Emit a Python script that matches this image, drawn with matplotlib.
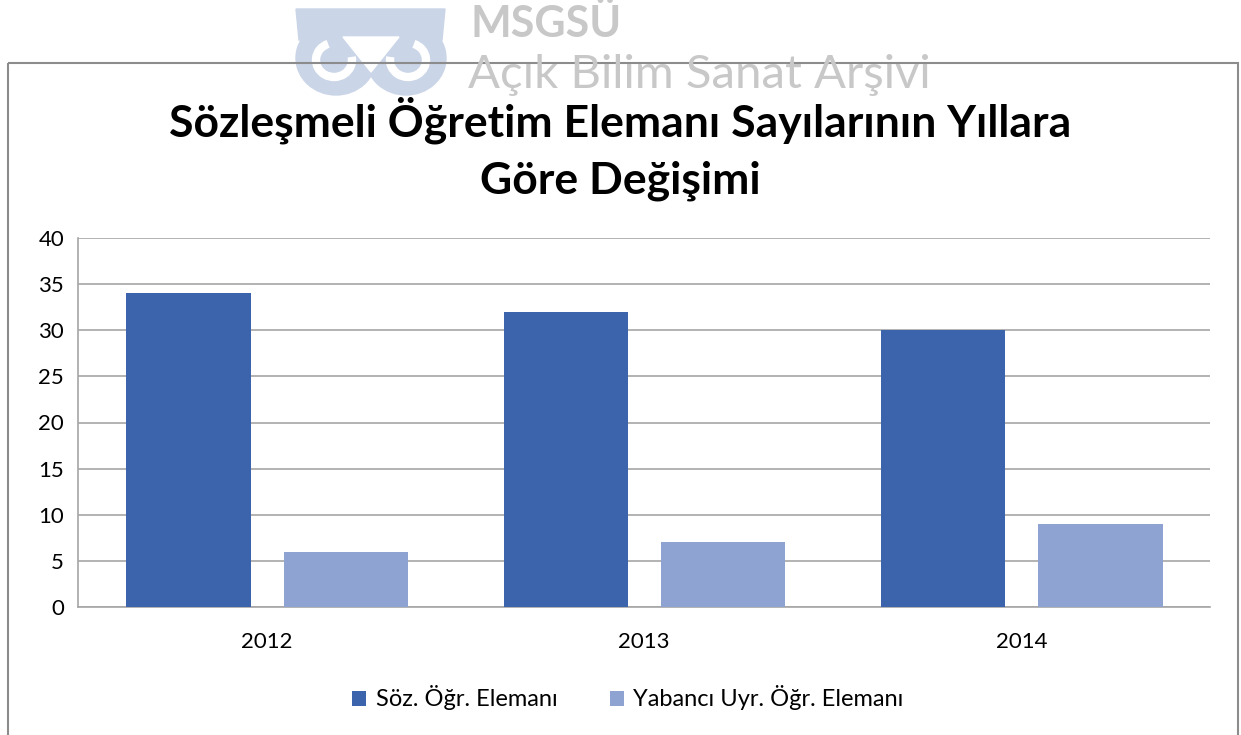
import matplotlib.pyplot as plt
import matplotlib.patches as mpatches
import numpy as np

plt.rcParams['font.family'] = ['Lato', 'DejaVu Sans']

years = ["2012", "2013", "2014"]
soz = [34, 32, 30]
yabanci = [6, 7, 9]
labels = ["Söz. Öğr. Elemanı", "Yabancı Uyr. Öğr. Elemanı"]
dark = "#3c64ad"
light = "#8fa3d3"

fig = plt.figure(figsize=(12.41, 7.35), dpi=100)

# overlay in pixel coords for border and watermark
bg = fig.add_axes([0, 0, 1, 1], zorder=0)
bg.set_xlim(0, 1241)
bg.set_ylim(735, 0)
bg.axis("off")

owl = "#cbd5e8"
for cx in [336, 406]:
    bg.add_patch(mpatches.Ellipse((cx, 58), 80, 74, color=owl))
bg.add_patch(mpatches.Polygon([(296, 9), (445, 9), (442, 40), (299, 40)], color=owl))
bg.add_patch(mpatches.Polygon([(343, 37), (399, 37), (371, 72)], color="white"))
bg.add_patch(mpatches.Arc((334, 60), 36, 34, theta1=350, theta2=250, color="white", linewidth=6))
bg.add_patch(mpatches.Arc((408, 60), 36, 34, theta1=290, theta2=190, color="white", linewidth=6))
bg.text(470, 24, "MSGSÜ", ha="left", va="center", fontsize=31, color="#c8c8c8", fontweight="bold")
bg.text(468, 75, "Açık Bilim Sanat Arşivi", ha="left", va="center", fontsize=34, color="#c8c8c8")

bg.add_patch(mpatches.Rectangle((8, 63), 1230, 700, fill=False, edgecolor="#8c8c8c", linewidth=1.5))

ax = fig.add_axes([78 / 1241, 1 - 607 / 735, 1132 / 1241, 369 / 735], zorder=1)

x = np.arange(len(years))
w = 0.33
ax.bar(x - 0.207, soz, w, color=dark, label=labels[0], zorder=3)
ax.bar(x + 0.21, yabanci, w, color=light, label=labels[1], zorder=3)

ax.set_xlim(-0.5, 2.5)
ax.set_ylim(0, 40)
ax.set_yticks(range(0, 41, 5))
ax.set_xticks(x)
ax.set_xticklabels(years)
ax.tick_params(length=0, labelsize=16, pad=10)
ax.tick_params(axis="x", pad=18)
ax.grid(axis="y", color="#a6a6a6", linewidth=1.2, zorder=0)
for s in ["top", "right"]:
    ax.spines[s].set_visible(False)
for s in ["left", "bottom"]:
    ax.spines[s].set_color("#a6a6a6")
    ax.spines[s].set_linewidth(1.2)

fig.text(0.5, 1 - 120 / 735, "Sözleşmeli Öğretim Elemanı Sayılarının Yıllara",
         ha="center", va="center", fontsize=32, fontweight="bold", zorder=5)
fig.text(0.5, 1 - 181 / 735, "Göre Değişimi",
         ha="center", va="center", fontsize=32, fontweight="bold", zorder=5)

fig.legend(loc="center", bbox_to_anchor=(0.506, 1 - 698 / 735), ncol=2, frameon=False,
           fontsize=17, handlelength=0.6, handleheight=0.6, columnspacing=2.2,
           handletextpad=0.4)

fig.savefig("out.png", dpi=100)
